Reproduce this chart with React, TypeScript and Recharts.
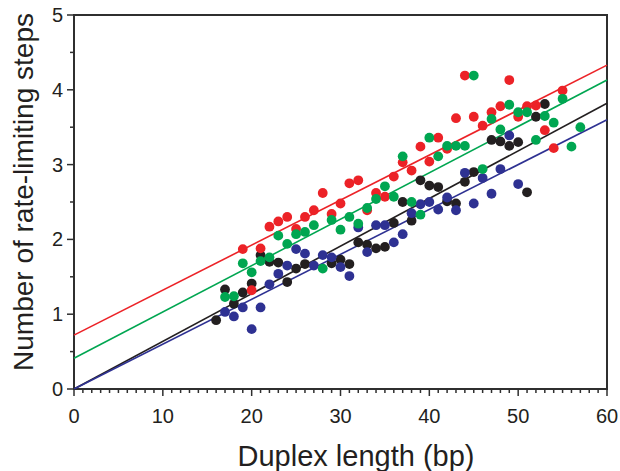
import React from "react";
import { ScatterChart, Scatter, XAxis, YAxis, ReferenceArea } from "recharts";

const red = [
  { x: 19, y: 1.87 }, { x: 20, y: 1.32 }, { x: 21, y: 1.88 }, { x: 22, y: 2.17 }, { x: 23, y: 2.24 },
  { x: 24, y: 2.3 }, { x: 25, y: 2.14 }, { x: 26, y: 2.3 }, { x: 27, y: 2.39 }, { x: 28, y: 2.62 },
  { x: 29, y: 2.34 }, { x: 30, y: 2.48 }, { x: 31, y: 2.75 }, { x: 32, y: 2.79 }, { x: 33, y: 2.39 },
  { x: 34, y: 2.62 }, { x: 35, y: 2.57 }, { x: 36, y: 2.84 }, { x: 37, y: 3.03 }, { x: 38, y: 2.92 },
  { x: 39, y: 3.24 }, { x: 40, y: 3.04 }, { x: 41, y: 3.36 }, { x: 42, y: 3.21 }, { x: 43, y: 3.62 },
  { x: 44, y: 4.19 }, { x: 45, y: 3.64 }, { x: 46, y: 3.52 }, { x: 47, y: 3.7 }, { x: 48, y: 3.78 },
  { x: 49, y: 4.13 }, { x: 50, y: 3.64 }, { x: 51, y: 3.78 }, { x: 52, y: 3.79 }, { x: 53, y: 3.46 },
  { x: 54, y: 3.22 }, { x: 55, y: 3.99 },
];

const green = [
  { x: 17, y: 1.23 }, { x: 18, y: 1.24 }, { x: 19, y: 1.68 }, { x: 20, y: 1.56 }, { x: 21, y: 1.71 },
  { x: 22, y: 1.76 }, { x: 23, y: 2.05 }, { x: 24, y: 1.94 }, { x: 25, y: 2.07 }, { x: 26, y: 2.1 },
  { x: 27, y: 2.19 }, { x: 28, y: 1.61 }, { x: 29, y: 2.26 }, { x: 30, y: 2.13 }, { x: 31, y: 2.3 },
  { x: 32, y: 2.21 }, { x: 33, y: 2.42 }, { x: 34, y: 2.54 }, { x: 35, y: 2.71 }, { x: 36, y: 2.57 },
  { x: 37, y: 3.11 }, { x: 38, y: 2.5 }, { x: 39, y: 2.33 }, { x: 40, y: 3.36 }, { x: 41, y: 3.11 },
  { x: 42, y: 3.25 }, { x: 43, y: 3.25 }, { x: 44, y: 3.25 }, { x: 45, y: 4.19 }, { x: 46, y: 2.94 },
  { x: 47, y: 3.61 }, { x: 48, y: 3.47 }, { x: 49, y: 3.8 }, { x: 50, y: 3.7 }, { x: 51, y: 3.7 },
  { x: 52, y: 3.33 }, { x: 53, y: 3.65 }, { x: 54, y: 3.56 }, { x: 55, y: 3.88 }, { x: 56, y: 3.24 },
  { x: 57, y: 3.5 },
];

const black = [
  { x: 16, y: 0.92 }, { x: 17, y: 1.33 }, { x: 18, y: 1.14 }, { x: 19, y: 1.29 }, { x: 20, y: 1.41 },
  { x: 21, y: 1.79 }, { x: 22, y: 1.7 }, { x: 23, y: 1.69 }, { x: 24, y: 1.43 }, { x: 25, y: 1.61 },
  { x: 26, y: 1.67 }, { x: 29, y: 1.68 }, { x: 30, y: 1.73 }, { x: 31, y: 1.67 }, { x: 32, y: 1.96 },
  { x: 33, y: 1.93 }, { x: 34, y: 1.88 }, { x: 35, y: 1.9 }, { x: 36, y: 2.22 }, { x: 37, y: 2.5 },
  { x: 38, y: 2.25 }, { x: 39, y: 2.79 }, { x: 40, y: 2.72 }, { x: 41, y: 2.7 }, { x: 42, y: 2.51 },
  { x: 43, y: 2.48 }, { x: 44, y: 2.77 }, { x: 45, y: 2.9 }, { x: 47, y: 3.33 }, { x: 48, y: 3.31 },
  { x: 49, y: 3.25 }, { x: 50, y: 3.3 }, { x: 51, y: 2.63 }, { x: 52, y: 3.64 }, { x: 53, y: 3.81 },
];

const blue = [
  { x: 17, y: 1.03 }, { x: 18, y: 0.97 }, { x: 19, y: 1.09 }, { x: 20, y: 0.8 }, { x: 21, y: 1.09 },
  { x: 22, y: 1.4 }, { x: 23, y: 1.54 }, { x: 24, y: 1.65 }, { x: 25, y: 1.87 }, { x: 26, y: 1.81 },
  { x: 27, y: 1.65 }, { x: 28, y: 1.79 }, { x: 29, y: 1.76 }, { x: 30, y: 1.63 }, { x: 31, y: 1.51 },
  { x: 32, y: 2.16 }, { x: 33, y: 1.83 }, { x: 34, y: 2.19 }, { x: 35, y: 2.19 }, { x: 36, y: 1.96 },
  { x: 37, y: 2.07 }, { x: 38, y: 2.35 }, { x: 39, y: 2.47 }, { x: 40, y: 2.5 }, { x: 41, y: 2.4 },
  { x: 42, y: 2.56 }, { x: 43, y: 2.39 }, { x: 44, y: 2.89 }, { x: 45, y: 2.48 }, { x: 46, y: 2.82 },
  { x: 47, y: 2.61 }, { x: 48, y: 2.94 }, { x: 49, y: 3.39 }, { x: 50, y: 2.74 },
];

// linear fits, end points at x = 0 and x = 60
const fitRed = [{ x: 0, y: 0.72 }, { x: 60, y: 4.33 }];
const fitGreen = [{ x: 0, y: 0.41 }, { x: 60, y: 4.13 }];
const fitBlack = [{ x: 0, y: 0 }, { x: 60, y: 3.82 }];
const fitBlue = [{ x: 0, y: 0 }, { x: 60, y: 3.6 }];

const xTicks = Array.from({ length: 61 }, (_, i) => i);
const yTicks = [0, 0.5, 1, 1.5, 2, 2.5, 3, 3.5, 4, 4.5, 5];

const C = { red: "#ec2227", green: "#00a651", black: "#231f20", blue: "#2e3192" };
const axisColor = "#2f2f2f";
const textColor = "#231f20";
const font = "'Liberation Sans', Arial, sans-serif";

const XTick = ({ x, y, payload }: any) => {
  const major = payload.value % 10 === 0;
  return (
    <g>
      <line x1={x} x2={x} y1={y} y2={y + (major ? 7 : 4)} stroke={axisColor} strokeWidth={1.5} />
      {major && (
        <text x={x} y={y + 34} textAnchor="middle" fontSize={20} fontFamily={font} fill={textColor}>
          {payload.value}
        </text>
      )}
    </g>
  );
};

const YTick = ({ x, y, payload }: any) => {
  const major = payload.value % 1 === 0;
  return (
    <g>
      <line x1={x} x2={x - (major ? 7 : 4)} y1={y} y2={y} stroke={axisColor} strokeWidth={1.5} />
      {major && (
        <text x={x - 11} y={y + 7} textAnchor="end" fontSize={20} fontFamily={font} fill={textColor}>
          {payload.value}
        </text>
      )}
    </g>
  );
};

const XTitle = () => (
  <text x={356} y={466} textAnchor="middle" fontSize={29} fontFamily={font} fill={textColor}>
    Duplex length (bp)
  </text>
);

const YTitle = () => (
  <text
    x={33}
    y={192}
    transform="rotate(-90 33 192)"
    textAnchor="middle"
    fontSize={28}
    fontFamily={font}
    fill={textColor}
  >
    Number of rate-limiting steps
  </text>
);

const Dot = (color: string) => (props: any) => <circle cx={props.cx} cy={props.cy} r={4.9} fill={color} />;
const NoDot = () => null;

export default function App() {
  return (
    <div style={{ position: "absolute", left: 0, top: 0, background: "#fff" }}>
      <ScatterChart width={620} height={471} margin={{ top: 15, right: 13, bottom: 0, left: 0 }}>
        <XAxis
          type="number"
          dataKey="x"
          domain={[0, 60]}
          ticks={xTicks}
          interval={0}
          height={82}
          tickSize={0}
          tickMargin={0}
          tick={<XTick />}
          axisLine={{ stroke: axisColor, strokeWidth: 2 }}
          label={<XTitle />}
        />
        <YAxis
          type="number"
          dataKey="y"
          domain={[0, 5]}
          ticks={yTicks}
          interval={0}
          width={74}
          tickSize={0}
          tickMargin={0}
          tick={<YTick />}
          axisLine={{ stroke: axisColor, strokeWidth: 2 }}
          label={<YTitle />}
        />
        <ReferenceArea x1={0} x2={60} y1={0} y2={5} fill="none" stroke={axisColor} strokeWidth={2} />
        <Scatter data={fitRed} line={{ stroke: C.red, strokeWidth: 1.6 }} shape={NoDot} isAnimationActive={false} />
        <Scatter data={fitGreen} line={{ stroke: C.green, strokeWidth: 1.6 }} shape={NoDot} isAnimationActive={false} />
        <Scatter data={fitBlack} line={{ stroke: C.black, strokeWidth: 1.6 }} shape={NoDot} isAnimationActive={false} />
        <Scatter data={fitBlue} line={{ stroke: C.blue, strokeWidth: 1.6 }} shape={NoDot} isAnimationActive={false} />
        <Scatter data={black} shape={Dot(C.black)} isAnimationActive={false} />
        <Scatter data={blue} shape={Dot(C.blue)} isAnimationActive={false} />
        <Scatter data={red} shape={Dot(C.red)} isAnimationActive={false} />
        <Scatter data={green} shape={Dot(C.green)} isAnimationActive={false} />
      </ScatterChart>
    </div>
  );
}
